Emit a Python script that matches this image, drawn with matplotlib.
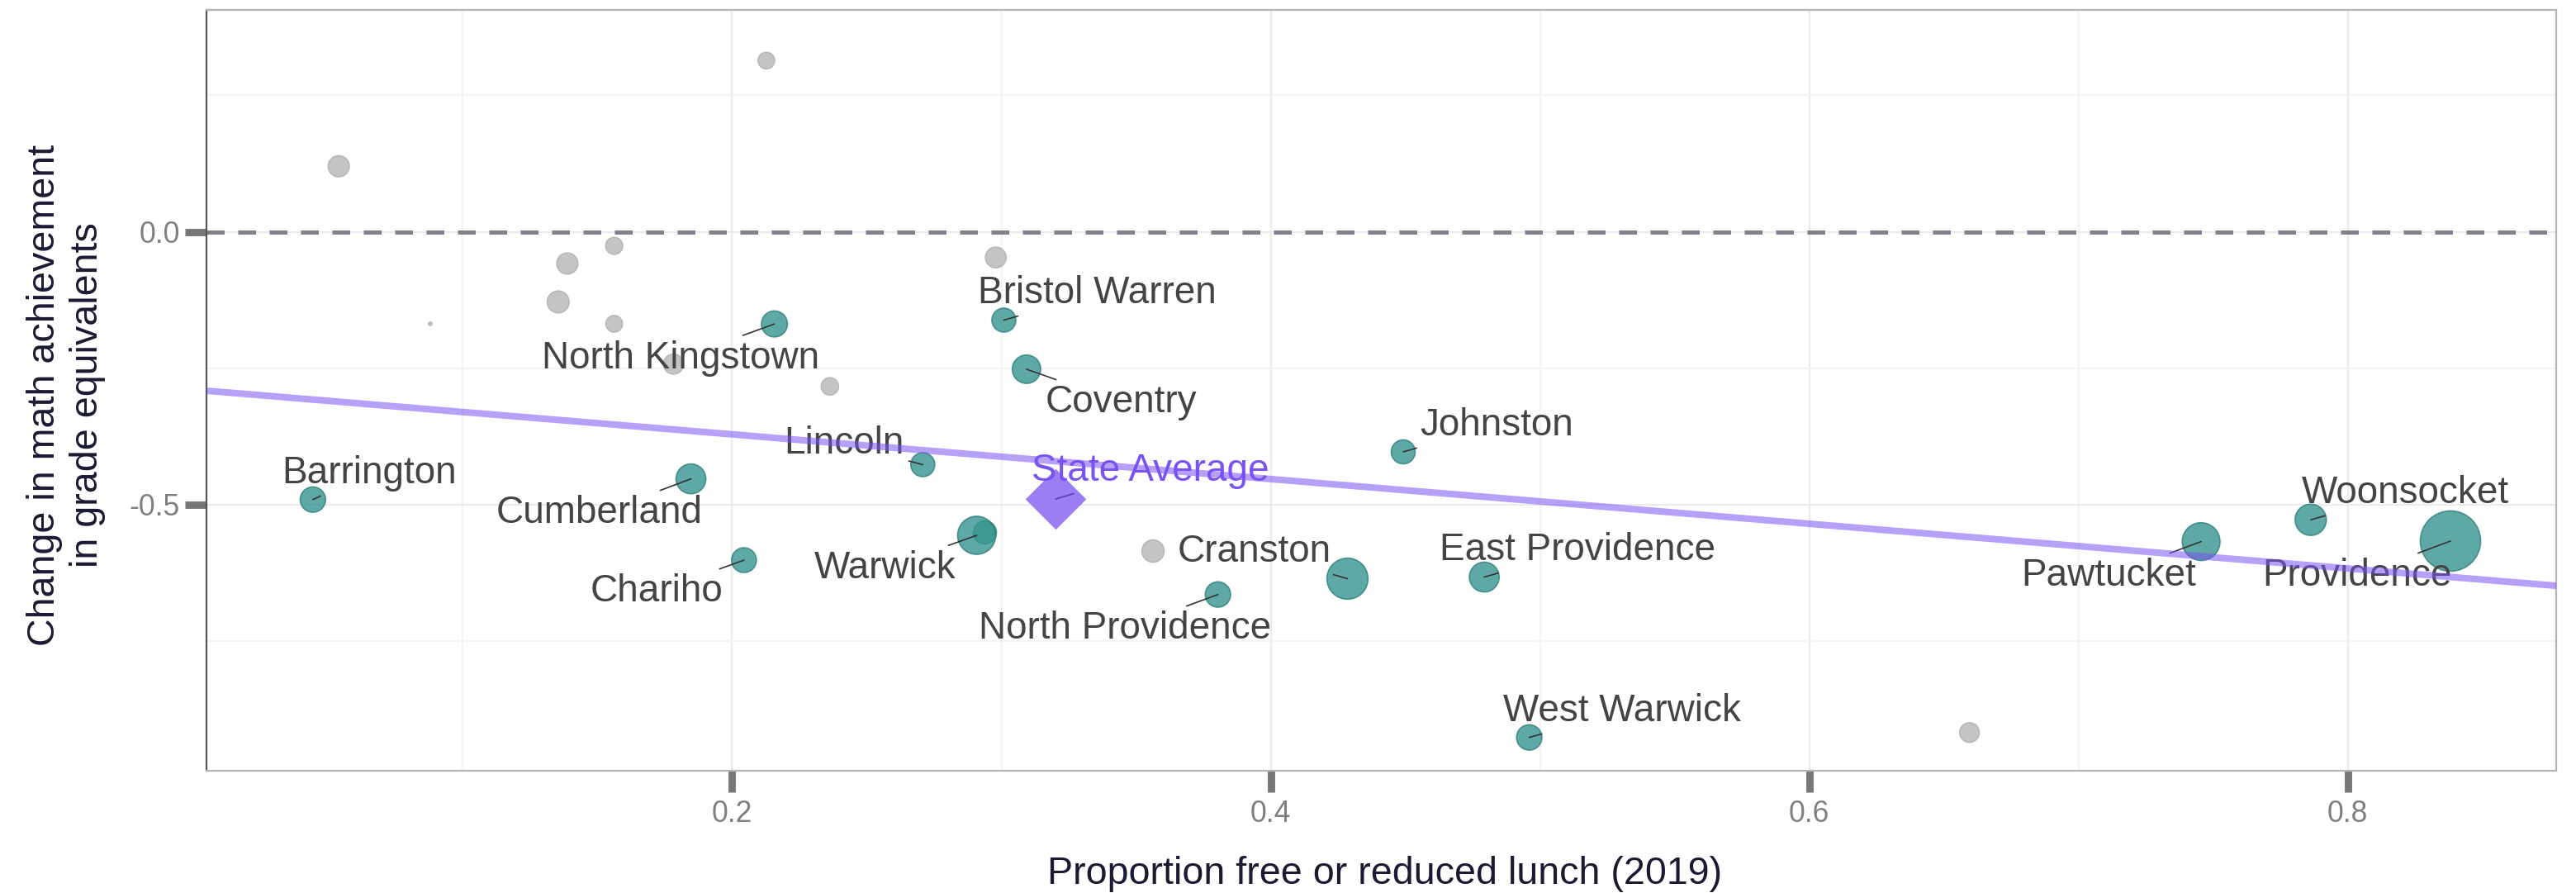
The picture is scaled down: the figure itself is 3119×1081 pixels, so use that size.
import matplotlib.pyplot as plt
import numpy as np

plt.rcParams["font.family"] = ["Liberation Sans", "DejaVu Sans"]

# labelled districts
districts = ["Barrington", "North Kingstown", "Bristol Warren", "Coventry", "Johnston",
             "Cumberland", "Lincoln", "Warwick", "Chariho", "Cranston", "North Providence",
             "East Providence", "West Warwick", "Pawtucket", "Woonsocket", "Providence"]
frl = [0.0443, 0.2157, 0.3009, 0.3093, 0.4492, 0.1847, 0.2708, 0.2908, 0.2044, 0.4285,
       0.3804, 0.4793, 0.4960, 0.7455, 0.7862, 0.8381]
change = [-0.491, -0.169, -0.162, -0.252, -0.4035, -0.453, -0.427, -0.5565, -0.602, -0.636,
          -0.665, -0.633, -0.927, -0.568, -0.528, -0.567]
enroll = [9.4, 9.9, 8.4, 11.8, 8.4, 13.0, 8.4, 21.2, 9.0, 24.7, 9.4, 13.0, 9.4, 20.9, 14.3, 53.3]
label_x = [0.0652, 0.1808, 0.3354, 0.3443, 0.4839, 0.1508, 0.2416, 0.2568, 0.1719, 0.3940,
           0.3458, 0.5139, 0.5306, 0.7111, 0.8212, 0.8034]
label_y = [-0.461, -0.250, -0.131, -0.331, -0.373, -0.534, -0.407, -0.635, -0.678, -0.605,
           -0.746, -0.602, -0.897, -0.649, -0.497, -0.649]

# unlabelled district hidden under Warwick
frl_hidden = [0.2936]
change_hidden = [-0.5497]
enroll_hidden = [7.8]

# other districts (grey)
frl_other = [0.0539, 0.2127, 0.1562, 0.1388, 0.1354, 0.0879, 0.1562, 0.2979, 0.2363, 0.1782,
             0.3563, 0.6595]
change_other = [0.120, 0.3137, -0.0259, -0.0583, -0.1287, -0.1688, -0.1688, -0.0472, -0.2835,
                -0.2427, -0.5853, -0.918]
enroll_other = [6.5, 4.0, 4.2, 6.5, 7.0, 0.16, 4.0, 6.25, 4.4, 5.8, 7.2, 5.6]

state_frl = 0.3201
state_change = -0.490
state_label = (0.3552, -0.4565)

fit_intercept = -0.2895
fit_slope = -0.4097

x_ticks = [0.2, 0.4, 0.6, 0.8]
y_ticks = [0.0, -0.5]

DPI = 200
SIZE_SCALE = (10 * 72 / DPI) ** 2
TEAL = "#36948f"
PURPLE = "#7a52f4"
LABEL_SIZE = 16.5

fig = plt.figure(figsize=(3119 / DPI, 1081 / DPI), dpi=DPI)
ax = fig.add_axes([0.08016, 0.13663, 0.99246 - 0.08016, 0.98890 - 0.13663])

ax.set_xlim(0.0048, 0.8775)
ax.set_ylim(-0.9885, 0.4066)

ax.set_xticks(x_ticks)
ax.set_xticks([0.1, 0.3, 0.5, 0.7], minor=True)
ax.set_yticks(y_ticks)
ax.set_yticks([0.25, -0.25, -0.75], minor=True)
ax.set_xticklabels([f"{v:.1f}" for v in x_ticks])
ax.set_yticklabels([f"{v:.1f}" for v in y_ticks])
ax.grid(True, which="major", color="#ebebeb", linewidth=0.8, zorder=0)
ax.grid(True, which="minor", color="#f3f3f3", linewidth=0.8, zorder=0)
ax.set_axisbelow(True)

ax.tick_params(axis="both", which="major", length=9.4, width=3.2, color="#777777",
               labelcolor="#7f7f7f", labelsize=12.8)
ax.tick_params(axis="x", which="major", pad=3.0)
ax.tick_params(axis="y", which="major", pad=2.2)
ax.tick_params(which="minor", length=0)

for side in ["top", "right", "bottom"]:
    ax.spines[side].set_color("#b5b5b5")
    ax.spines[side].set_linewidth(0.8)
ax.spines["left"].set_color("#555555")
ax.spines["left"].set_linewidth(0.8)

ax.axhline(0, color="#80808c", linewidth=1.8, linestyle=(0, (4.3, 3.3)), zorder=1.5)

ax.scatter(frl_other, change_other, s=np.array(enroll_other) * SIZE_SCALE,
           color="#c4c4c4", edgecolor="#b8b8b8", linewidth=0.6, zorder=2)
ax.scatter(frl_hidden, change_hidden, s=np.array(enroll_hidden) * SIZE_SCALE,
           color=TEAL, alpha=0.8, edgecolor="#2f7f7c", linewidth=0.6, zorder=2)
ax.scatter(frl, change, s=np.array(enroll) * SIZE_SCALE,
           color=TEAL, alpha=0.8, edgecolor="#2f7f7c", linewidth=0.6, zorder=2)

ax.scatter([state_frl], [state_change], marker="D", s=(52 * 72 / DPI) ** 2,
           color="#8a68f2", alpha=0.85, linewidth=0, zorder=2.5)

seg = dict(arrowstyle="-", color="#333333", lw=0.6, shrinkA=0, shrinkB=0)
for name, x, y, lx, ly in zip(districts, frl, change, label_x, label_y):
    ax.annotate(name, xy=(x, y), xytext=(lx, ly), ha="center", va="baseline",
                fontsize=LABEL_SIZE, color="#444444", arrowprops=seg, zorder=3)
ax.annotate("State Average", xy=(state_frl, state_change), xytext=state_label,
            ha="center", va="baseline", fontsize=LABEL_SIZE, color=PURPLE,
            arrowprops=dict(seg, color="#5a3cc0"), zorder=3)

ax.axline((0, fit_intercept), slope=fit_slope, color=PURPLE, alpha=0.55,
          linewidth=2.9, zorder=4)

fig.text(1677 / 3119, 1 - 1069.6 / 1081, "Proportion free or reduced lunch (2019)",
         ha="center", va="baseline", fontsize=16.8, color="#1a1a33")
fig.text(80 / 3119, 1 - 478 / 1081, "Change in math achievement\nin grade equivalents",
         ha="center", va="center", rotation=90, multialignment="center",
         fontsize=16.8, color="#1a1a33", linespacing=1.25)

fig.savefig("out.png", dpi=DPI)
